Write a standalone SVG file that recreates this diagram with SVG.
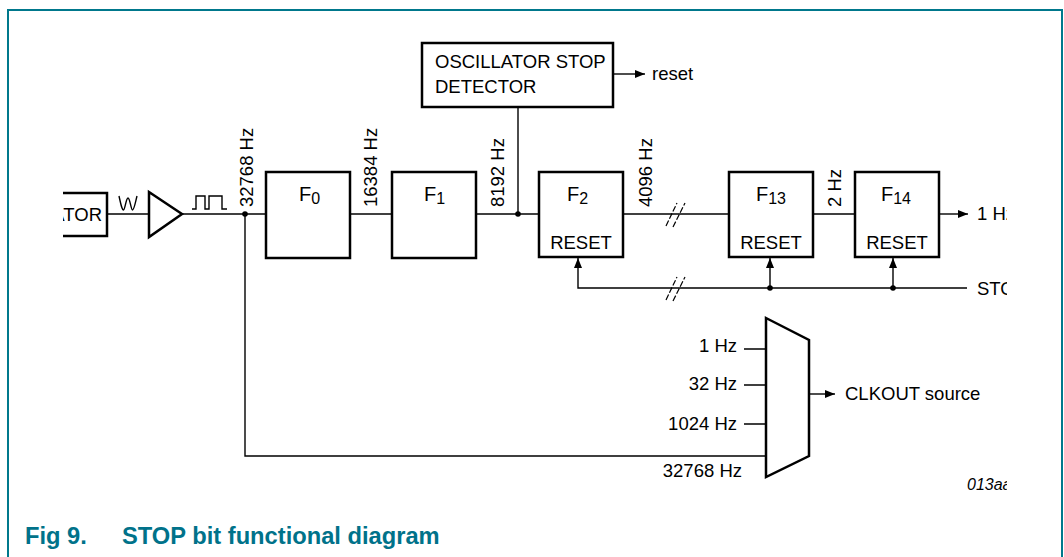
<svg xmlns="http://www.w3.org/2000/svg" width="1064" height="557" viewBox="0 0 1064 557">
<defs>
<style>
text{font-family:"Liberation Sans",Arial,sans-serif;fill:#000}
.t{font-size:18.5px}
.f{font-size:20px}
.s{font-size:16px}
.box{fill:none;stroke:#000;stroke-width:2.5}
.ln{fill:none;stroke:#000;stroke-width:1.4}
.brk{fill:none;stroke:#000;stroke-width:1.2;stroke-dasharray:6,2}
.frame{fill:none;stroke:#00788C;stroke-width:2}
.ttl{font-size:23.7px;font-weight:bold;fill:#00728A}
</style>
<marker id="ah" markerWidth="10" markerHeight="8" refX="10" refY="4" orient="auto" markerUnits="userSpaceOnUse">
<path d="M0,0 L10,4 L0,8 z" fill="#000"/>
</marker>
<clipPath id="cp"><rect x="63" y="0" width="944" height="557"/></clipPath>
</defs>
<rect x="0" y="0" width="1064" height="557" fill="#fff"/>
<path class="frame" d="M8,557 V10 H1062 V557"/>
<text class="ttl" x="25" y="544">Fig 9.</text>
<text class="ttl" x="122" y="544">STOP bit functional diagram</text>
<g clip-path="url(#cp)">
<g id="osc">
<rect class="box" x="-20" y="193" width="127" height="43"/>
<text class="t" x="102" y="221" text-anchor="end">OSCILLATOR</text>
</g>
<g id="amp">
<path class="box" d="M149,192 L182,214 L149,237 z"/>
</g>
<g id="detector">
<rect class="box" x="422" y="43" width="191" height="64"/>
<text class="t" x="435" y="68">OSCILLATOR STOP</text>
<text class="t" x="435" y="93">DETECTOR</text>
</g>
<g id="f0">
<rect class="box" x="266" y="172" width="84" height="86"/>
<text class="f" x="299" y="201">F<tspan class="s" dy="3">0</tspan></text>
</g>
<g id="f1">
<rect class="box" x="392" y="172" width="84" height="86"/>
<text class="f" x="424" y="201">F<tspan class="s" dy="3">1</tspan></text>
</g>
<g id="f2">
<rect class="box" x="539" y="172" width="84" height="85"/>
<text class="f" x="567" y="201">F<tspan class="s" dy="3">2</tspan></text>
<text class="t" x="581" y="249" text-anchor="middle">RESET</text>
</g>
<g id="f13">
<rect class="box" x="729" y="172" width="84" height="85"/>
<text class="f" x="756" y="201">F<tspan class="s" dy="3">13</tspan></text>
<text class="t" x="771" y="249" text-anchor="middle">RESET</text>
</g>
<g id="f14">
<rect class="box" x="855" y="172" width="84" height="85"/>
<text class="f" x="881" y="201">F<tspan class="s" dy="3">14</tspan></text>
<text class="t" x="897" y="249" text-anchor="middle">RESET</text>
</g>
<g id="mux">
<path class="box" d="M766,318 L809,340 L809,456 L766,477 z"/>
</g>
<g id="connectors">
<path class="ln" d="M107,214 H149"/>
<path class="ln" d="M182,214 H266"/>
<path class="ln" d="M350,214 H392"/>
<path class="ln" d="M476,214 H539"/>
<path class="ln" d="M518,107 V214"/>
<path class="ln" d="M623,214 H729"/>
<path class="ln" d="M813,214 H855"/>
<path class="ln" d="M939,214 H968" marker-end="url(#ah)"/>
<path class="ln" d="M613,74 H645" marker-end="url(#ah)"/>
<path class="ln" d="M245,214 V456 H766"/>
<path class="ln" d="M967,288 H578 V258" marker-end="url(#ah)"/>
<path class="ln" d="M770,288 V258" marker-end="url(#ah)"/>
<path class="ln" d="M893,288 V258" marker-end="url(#ah)"/>
<path class="ln" d="M744,349 H766 M744,385 H766 M744,424 H766"/>
<path class="ln" d="M809,394 H835" marker-end="url(#ah)"/>
<path class="brk" d="M666,226 L677,203 M673,227 L685,203"/>
<path class="brk" d="M666,300 L677,277 M673,301 L685,277"/>
<circle cx="245" cy="214" r="2.8"/>
<circle cx="518" cy="214" r="2.8"/>
<circle cx="770" cy="288" r="2.8"/>
<circle cx="893" cy="288" r="2.8"/>
<path class="ln" d="M119,196 C121,205 122,210 123.5,210 C125,210 126,198 128,198 C130,198 131,210 132.5,210 C134,210 135,204 137,196"/>
<path class="ln" d="M192,209 H196 V196 H205 V209 H209 V196 H222 V209 H227"/>
</g>
<g id="labels">
<text class="t" transform="translate(253,207) rotate(-90)">32768 Hz</text>
<text class="t" transform="translate(377,207) rotate(-90)">16384 Hz</text>
<text class="t" transform="translate(504,207) rotate(-90)">8192 Hz</text>
<text class="t" transform="translate(652,207) rotate(-90)">4096 Hz</text>
<text class="t" transform="translate(841,207) rotate(-90)">2 Hz</text>
<text class="t" x="652" y="80">reset</text>
<text class="t" x="977" y="220">1 Hz</text>
<text class="t" x="977" y="295">STOP</text>
<text class="t" x="737" y="352" text-anchor="end">1 Hz</text>
<text class="t" x="737" y="390" text-anchor="end">32 Hz</text>
<text class="t" x="737" y="430" text-anchor="end">1024 Hz</text>
<text class="t" x="742" y="477" text-anchor="end">32768 Hz</text>
<text class="t" x="845" y="400">CLKOUT source</text>
<text x="967" y="490" style="font-size:16px;font-style:italic">013aaa</text>
</g>
</g>
</svg>
